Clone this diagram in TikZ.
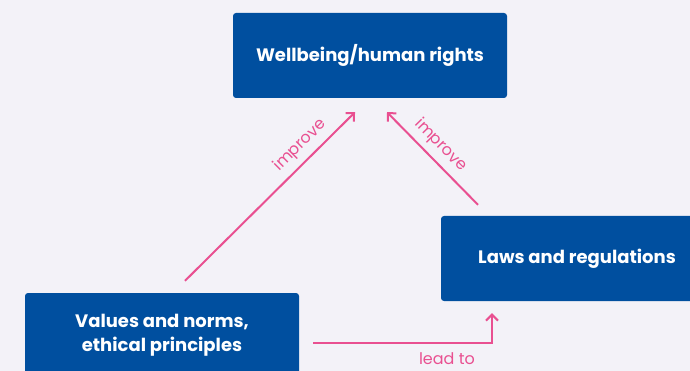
\documentclass[tikz,border=0pt]{standalone}
\usepackage{fontspec}
\setmainfont{Poppins}
\usetikzlibrary{arrows.meta}

\definecolor{bgcol}{RGB}{243,242,248}
\definecolor{boxblue}{RGB}{0,79,159}
\definecolor{linkpink}{RGB}{233,80,145}

\begin{document}
\begin{tikzpicture}[x=1pt,y=-1pt,
	box/.style = {fill=boxblue, rounded corners=3pt, text=white, font=\bfseries\fontsize{18}{24}\selectfont, align=center, minimum width=274pt, minimum height=85pt, inner sep=0pt},
	link/.style = {linkpink, line width=2pt, -{Straight Barb[length=6pt,width=12pt]}},
	lbl/.style = {text=linkpink, font=\fontsize{16}{18}\selectfont, inner sep=1pt}]
\useasboundingbox (0,0) rectangle (690,371);
\fill[bgcol] (0,0) rectangle (690,371);
\clip (0,0) rectangle (690,371);
%\draw [help lines,black!20!white] (0,0) grid[step=50pt] (690,371);

\node[box] (wellbeing) at (370,55.5) {Wellbeing/human rights};
\node[box, minimum width=272pt] (laws) at (577,258.5) {Laws and regulations};
\node[box] (values) at (162,335.5) {Values and norms,\\ethical principles};

\draw[link] ([xshift=23pt,yshift=12pt]values.north) -- ([xshift=-15pt,yshift=-14pt]wellbeing.south)
	node [lbl, pos=0.74, sloped, above=5pt] {improve};
\draw[link] ([xshift=-99pt,yshift=11pt]laws.north) -- ([xshift=17pt,yshift=-14pt]wellbeing.south)
	node [lbl, pos=0.53, sloped, above=5pt] {improve};
\draw[link] ([xshift=14pt,yshift=-7.5pt]values.east) -| ([xshift=-85pt,yshift=-12pt]laws.south)
	node [lbl, pos=0.374, below=8pt] {lead to};

\end{tikzpicture}
\end{document}
